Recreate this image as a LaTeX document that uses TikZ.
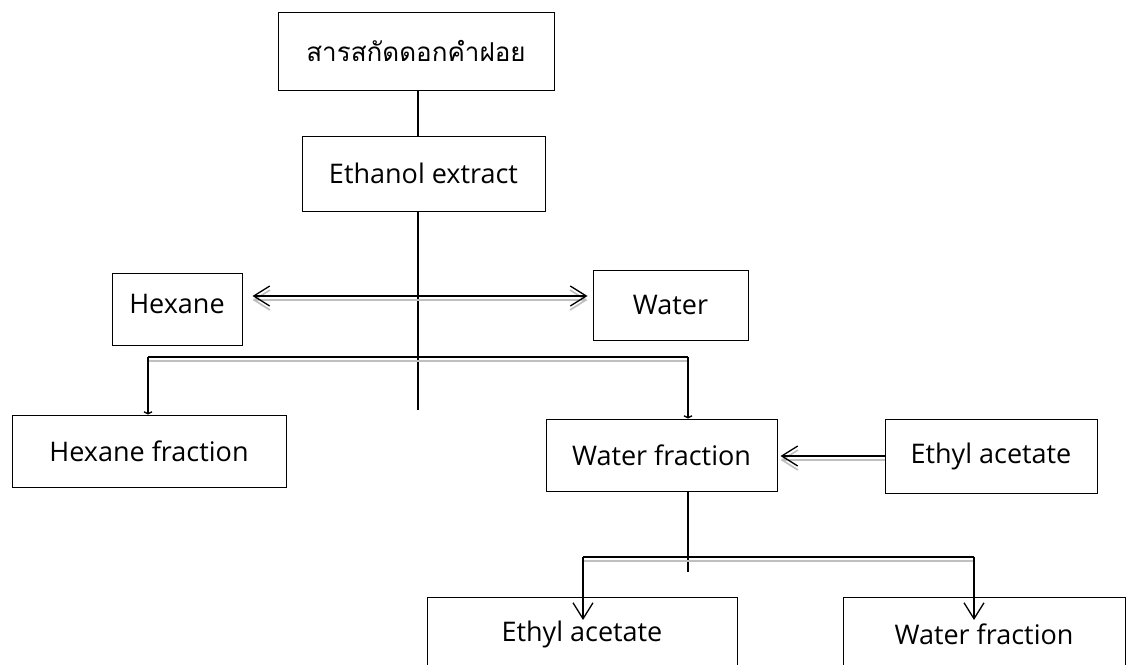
\documentclass[tikz,border=0pt]{standalone}
\usepackage{fontspec}
\setmainfont{Open Sans}
\newfontfamily\thaifont[Script=Thai]{Loma}
\usetikzlibrary{arrows.meta}

\tikzset{
  box/.style 2 args={draw, line width=1pt, minimum width=#1, minimum height=#2,
    inner sep=0pt, font=\fontsize{27}{31}\selectfont},
  bigarr/.style={-{Straight Barb[length=16pt,width=20pt]}},
  tinyarr/.style={-{Straight Barb[length=2pt,width=8pt]}},
  ghost/.style={draw=gray!50, line width=1.6pt, transform canvas={yshift=-4pt}}
}

\begin{document}
\begin{tikzpicture}[x=1pt,y=-1pt,line width=1.3pt]
\useasboundingbox (0,0) rectangle (1126,664);
\clip (0,0) rectangle (1126,664);

% boxes
\node[box={276pt}{78pt}] (thai) at (416,51) {\thaifont\fontsize{26}{30}\selectfont สารสกัดดอกคำฝอย};
\node[box={243pt}{75pt}] (eth) at (423.5,173.5) {Ethanol extract};
\node[box={130pt}{72pt}] (hex) at (177,309) {\raisebox{10pt}{Hexane}};
\node[box={155pt}{70pt}] (water) at (670.5,305) {Water};
\node[box={274pt}{72pt}] (hexf) at (149,451) {Hexane fraction};
\node[box={231pt}{72pt}] (waterf) at (661.5,455) {Water fraction};
\node[box={212pt}{74pt}] (ethyl) at (991,456) {Ethyl acetate};
\node[box={310pt}{74pt}] (ethyl2) at (582,634) {Ethyl acetate};
\node[box={282pt}{74pt}] (waterf2) at (984,634) {Water fraction};

% points
\coordinate (stem) at (418,410);
\coordinate (mix) at (418,296);
\coordinate (legL) at (148,357);
\coordinate (legR) at (688,357);
\coordinate (stem2) at (688,572);
\coordinate (legL2) at (583,557);
\coordinate (legR2) at (974,557);

% trunk
\draw (thai.south -| stem) -- (eth.north -| stem);
\draw (eth.south -| stem) -- (stem);

% solvents
\draw[ghost, {Straight Barb[length=16pt,width=20pt]}-{Straight Barb[length=16pt,width=20pt]},
  shorten <=10pt, shorten >=5pt] (hex.east |- mix) -- (water.west |- mix);
\draw[{Straight Barb[length=16pt,width=20pt]}-{Straight Barb[length=16pt,width=20pt]},
  shorten <=10pt, shorten >=5pt] (hex.east |- mix) -- (water.west |- mix);

% first split
\draw[ghost] (legL) -- (legR);
\draw[tinyarr] (legL) -- (legL |- hexf.north);
\draw (legL) -- (legR);
\draw[tinyarr] (legR) -- (legR |- waterf.north);

% ethyl acetate added
\draw[ghost, bigarr, shorten >=3pt] (ethyl.west) -- (waterf.east |- ethyl.west);
\draw[bigarr, shorten >=3pt] (ethyl.west) -- (waterf.east |- ethyl.west);

% second split
\draw (waterf.south -| stem2) -- (stem2);
\draw[ghost] (legL2) -- (legR2);
\draw (legL2) -- (legR2);
\draw[bigarr] (legL2) -- (legL2 |- 0,620);
\draw[bigarr] (legR2) -- (legR2 |- 0,620);

\end{tikzpicture}
\end{document}
